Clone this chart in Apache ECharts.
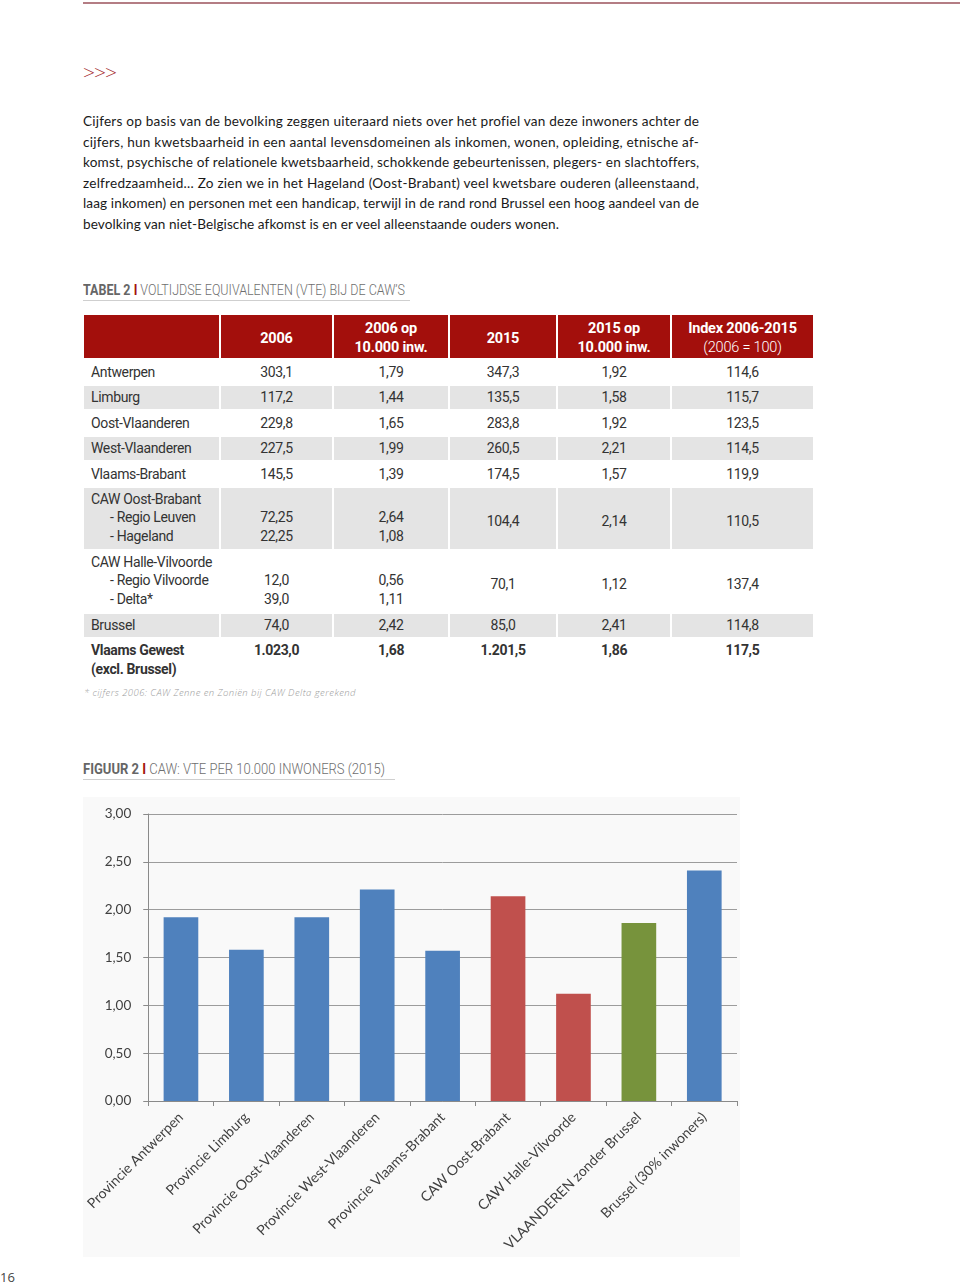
<!DOCTYPE html>
<html>
<head>
<meta charset="utf-8">
<script src="https://cdn.jsdelivr.net/npm/echarts@6/dist/echarts.min.js"></script>
<style>
  html,body{margin:0;padding:0;background:#fff;}
  body{width:960px;height:1287px;position:relative;overflow:hidden;}
  .abs{position:absolute;}
  #topline{left:83px;top:2px;width:877px;height:2px;background:#b47d84;}
  #chev{left:83px;top:58px;font-family:"Open Sans",sans-serif;font-weight:300;font-size:21px;color:#a3262a;letter-spacing:-1px;}
  #para{left:83px;top:111px;width:640px;font-family:Lato,sans-serif;font-weight:400;font-size:13.6px;line-height:20.6px;color:#1a1a1a;}
  .jl{white-space:nowrap;}
  .cond{font-family:Roboto,"Noto Sans",sans-serif;}
  .head{font-size:15px;color:#6e6e6e;white-space:nowrap;font-weight:300;transform-origin:0 50%;}
  .head b{color:#666;font-weight:bold;}
  .head .bar{color:#a3150f;font-weight:bold;}
  .uline{height:1px;background:#cfcfcf;}
  table.t{position:absolute;left:82px;top:313px;border-collapse:separate;border-spacing:2px;table-layout:fixed;font-size:14px;color:#333;letter-spacing:-0.35px;}
  table.t td{box-sizing:border-box;padding:0;line-height:18.5px;text-align:center;vertical-align:middle;}
  table.t tr.h td{background:#a30f0c;color:#fff;font-weight:bold;height:43px;font-size:14.5px;line-height:19px;letter-spacing:-0.2px;padding-top:3px;}
  table.t tr.h td .lt{font-weight:300;}
  table.t tr.g td{background:#e4e4e4;}
  table.t td.lab{text-align:left;padding-left:7px;}
  table.t tr.s td{height:23.5px;}
  table.t tr.m td{height:61px;vertical-align:top;padding-top:2px;}
  table.t tr.m td.mid{vertical-align:middle;padding-top:7px;}
  table.t tr.b td{height:42px;vertical-align:top;padding-top:2px;font-weight:bold;}
  .ind{padding-left:19px;}
  #foot{left:84px;top:686px;font-family:"Open Sans",sans-serif;font-style:italic;font-weight:300;font-size:9.5px;color:#9a9a9a;white-space:nowrap;}
  #chart{left:83px;top:797px;width:657px;height:460px;background:#f9f9f9;}
  #pnum{left:0px;top:1268px;font-family:"Open Sans",sans-serif;font-size:13px;color:#444;}
</style>
</head>
<body>
<div id="topline" class="abs"></div>
<div id="chev" class="abs">&gt;&gt;&gt;</div>
<div id="para" class="abs"></div>

<div id="h1" class="abs head cond" style="left:83px;top:281px;"><b>TABEL 2 </b><span class="bar">I</span> VOLTIJDSE EQUIVALENTEN (VTE) BIJ DE CAW’S</div>
<div class="abs uline" style="left:83px;top:300px;width:327px;"></div>

<table class="t cond" id="tbl">
  <colgroup>
    <col style="width:135px"><col style="width:111px"><col style="width:114px"><col style="width:106px"><col style="width:112px"><col style="width:141px">
  </colgroup>
  <tbody id="tbody"></tbody>
</table>

<div id="foot" class="abs">* cijfers 2006: CAW Zenne en Zoniën bij CAW Delta gerekend</div>

<div id="h2" class="abs head cond" style="left:83px;top:760px;"><b>FIGUUR 2 </b><span class="bar">I</span> CAW: VTE PER 10.000 INWONERS (2015)</div>
<div class="abs uline" style="left:83px;top:779px;width:312px;"></div>

<div id="chart" class="abs"></div>
<div id="pnum" class="abs">16</div>

<script>
// ---------- text ----------
const paraLines = [
  "Cijfers op basis van de bevolking zeggen uiteraard niets over het profiel van deze inwoners achter de",
  "cijfers, hun kwetsbaarheid in een aantal levensdomeinen als inkomen, wonen, opleiding, etnische af-",
  "komst, psychische of relationele kwetsbaarheid, schokkende gebeurtenissen, plegers- en slachtoffers,",
  "zelfredzaamheid… Zo zien we in het Hageland (Oost-Brabant) veel kwetsbare ouderen (alleenstaand,",
  "laag inkomen) en personen met een handicap, terwijl in de rand rond Brussel een hoog aandeel van de",
  "bevolking van niet-Belgische afkomst is en er veel alleenstaande ouders wonen."
];

// ---------- table data ----------
const tableHeaders = [["", ""], ["2006"], ["2006 op", "10.000 inw."], ["2015"], ["2015 op", "10.000 inw."], ["Index 2006-2015", "(2006 = 100)"]];
const rowLabels = [
  ["Antwerpen"], ["Limburg"], ["Oost-Vlaanderen"], ["West-Vlaanderen"], ["Vlaams-Brabant"],
  ["CAW Oost-Brabant", "- Regio Leuven", "- Hageland"],
  ["CAW Halle-Vilvoorde", "- Regio Vilvoorde", "- Delta*"],
  ["Brussel"],
  ["Vlaams Gewest", "(excl. Brussel)"]
];
const vte2006 = [["303,1"], ["117,2"], ["229,8"], ["227,5"], ["145,5"], ["", "72,25", "22,25"], ["", "12,0", "39,0"], ["74,0"], ["1.023,0"]];
const per10k2006 = [["1,79"], ["1,44"], ["1,65"], ["1,99"], ["1,39"], ["", "2,64", "1,08"], ["", "0,56", "1,11"], ["2,42"], ["1,68"]];
const vte2015 = ["347,3", "135,5", "283,8", "260,5", "174,5", "104,4", "70,1", "85,0", "1.201,5"];
const per10k2015 = ["1,92", "1,58", "1,92", "2,21", "1,57", "2,14", "1,12", "2,41", "1,86"];
const index0615 = ["114,6", "115,7", "123,5", "114,5", "119,9", "110,5", "137,4", "114,8", "117,5"];

// ---------- chart data ----------
const categories = ["Provincie Antwerpen", "Provincie Limburg", "Provincie Oost-Vlaanderen", "Provincie West-Vlaanderen", "Provincie Vlaams-Brabant", "CAW Oost-Brabant", "CAW Halle-Vilvoorde", "VLAANDEREN zonder Brussel", "Brussel (30% inwoners)"];
const vtePer10k2015 = [1.92, 1.58, 1.92, 2.21, 1.57, 2.14, 1.12, 1.86, 2.41];
const barGroup = ["prov", "prov", "prov", "prov", "prov", "caw", "caw", "vl", "prov"];
const yTicks = [0, 0.5, 1, 1.5, 2, 2.5, 3];

// paragraph: fit each line to the width it has in the page
const lineWidths = [616, 616, 616, 616, 616, 476];
const para = document.getElementById('para');
paraLines.forEach((t) => {
  const d = document.createElement('div');
  d.className = 'jl';
  d.textContent = t;
  para.appendChild(d);
});
document.querySelectorAll('#para .jl').forEach((el, i) => {
  el.style.display = 'inline-block';
  const w = el.getBoundingClientRect().width;
  const n = el.textContent.length;
  el.style.letterSpacing = ((lineWidths[i] - w) / n) + 'px';
  el.style.display = 'block';
});
function fitWidth(id, target) {
  const el = document.getElementById(id);
  const w = el.getBoundingClientRect().width;
  const n = el.textContent.length;
  el.style.letterSpacing = ((target - w) / n) + 'px';
}
function fitScale(id, target) {
  const el = document.getElementById(id);
  const w = el.getBoundingClientRect().width;
  el.style.transform = 'scaleX(' + (target / w) + ')';
}
fitScale('h1', 322);
fitScale('h2', 302);
fitWidth('foot', 272);

// table
const tb = document.getElementById('tbody');
function cellHTML(lines) { return lines.join('<br>'); }
let html = '<tr class="h">';
tableHeaders.forEach((h, i) => {
  if (i === 5) html += '<td>' + h[0] + '<br><span class="lt">' + h[1] + '</span></td>';
  else html += '<td>' + h.filter(x => x !== '').join('<br>') + '</td>';
});
html += '</tr>';
rowLabels.forEach((lab, r) => {
  const multi = lab.length === 3;
  const bold = r === rowLabels.length - 1;
  const cls = (multi ? 'm' : (bold ? 'b' : 's')) + (r % 2 === 1 ? ' g' : '');
  const labHTML = lab.map((l, k) => (k > 0 && multi) ? '<div class="ind">' + l + '</div>' : '<div>' + l + '</div>').join('');
  html += '<tr class="' + cls + '">' +
    '<td class="lab">' + labHTML + '</td>' +
    '<td>' + cellHTML(vte2006[r]) + '</td>' +
    '<td>' + cellHTML(per10k2006[r]) + '</td>' +
    '<td class="mid">' + vte2015[r] + '</td>' +
    '<td class="mid">' + per10k2015[r] + '</td>' +
    '<td class="mid">' + index0615[r] + '</td></tr>';
});
tb.innerHTML = html;

// chart
const groupColors = { prov: '#4f81bd', caw: '#c0504d', vl: '#77933c' };
const chart = echarts.init(document.getElementById('chart'), null, { renderer: 'canvas' });
chart.setOption({
  backgroundColor: '#f9f9f9',
  animation: false,
  grid: { left: 61, right: 3, top: 17, bottom: 156, containLabel: false },
  xAxis: {
    type: 'category',
    data: categories,
    axisLine: { show: true, lineStyle: { color: '#8a8a8a', width: 1 } },
    axisTick: { show: true, length: 5, interval: 0, lineStyle: { color: '#8a8a8a' } },
    axisLabel: { interval: 0, rotate: 45, margin: 14, fontFamily: 'Lato, sans-serif', fontSize: 14, color: '#404040' }
  },
  yAxis: {
    type: 'value',
    min: yTicks[0], max: yTicks[yTicks.length - 1], interval: 0.5,
    axisLine: { show: true, lineStyle: { color: '#8a8a8a', width: 1 } },
    axisTick: { show: true, length: 5, lineStyle: { color: '#8a8a8a' } },
    splitLine: { show: true, lineStyle: { color: '#9c9c9c', width: 1 } },
    axisLabel: { margin: 17, fontFamily: 'Lato, sans-serif', fontSize: 13.5, color: '#404040',
      formatter: v => v.toFixed(2).replace('.', ',') }
  },
  series: [{
    type: 'bar',
    barWidth: '53%',
    data: vtePer10k2015.map((v, i) => ({ value: v, itemStyle: { color: groupColors[barGroup[i]] } }))
  }]
});
</script>
</body>
</html>
